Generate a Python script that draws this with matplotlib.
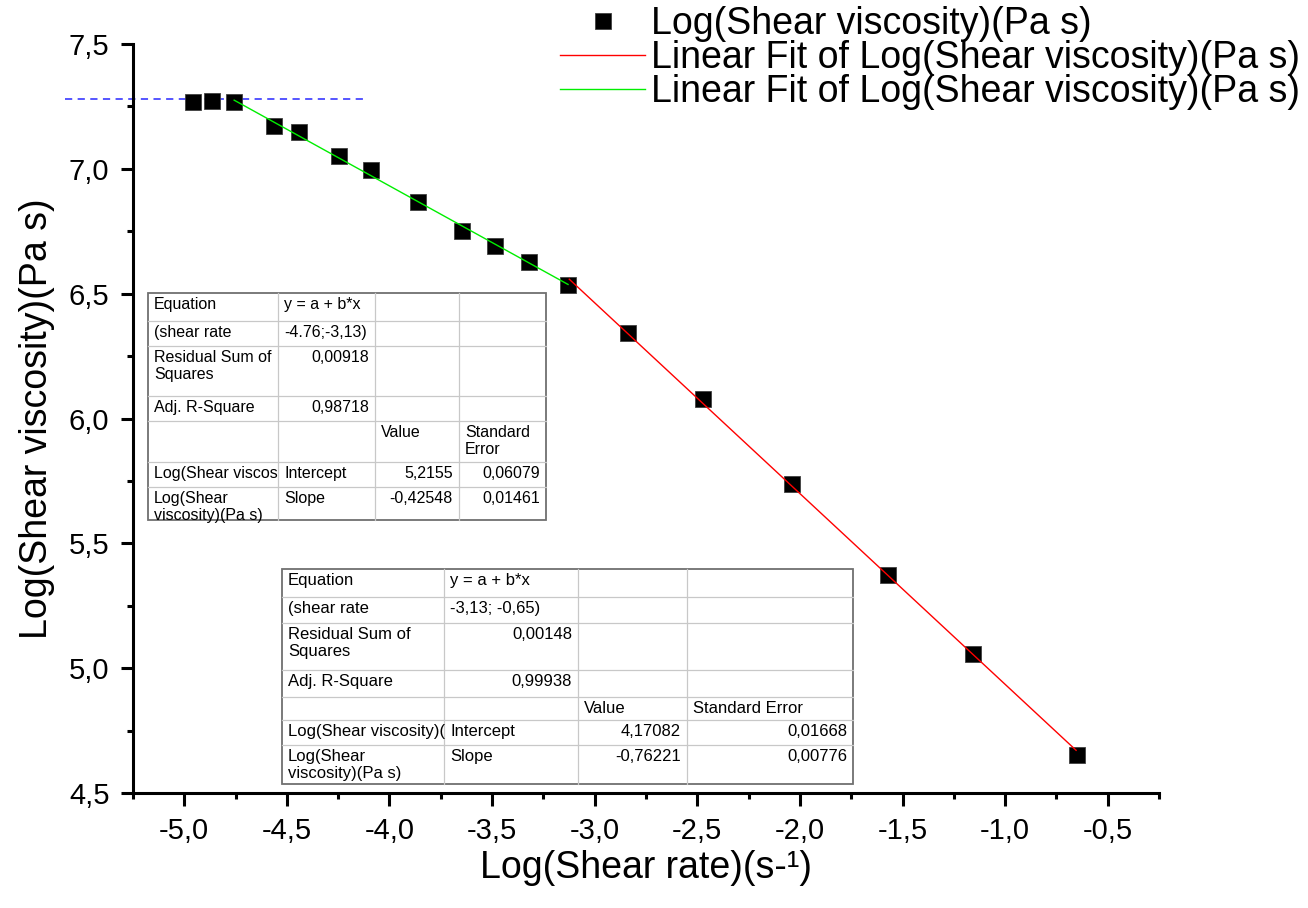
import matplotlib
matplotlib.use("Agg")
import matplotlib.pyplot as plt
from matplotlib.lines import Line2D
from matplotlib.patches import Rectangle
from matplotlib.ticker import MultipleLocator, FuncFormatter

plt.rcParams['font.family'] = ['Liberation Sans', 'DejaVu Sans']

# measured data (log shear rate, log shear viscosity)
shear_rate = [-4.958, -4.865, -4.757, -4.565, -4.44, -4.245, -4.09, -3.859, -3.648,
              -3.486, -3.32, -3.129, -2.84, -2.472, -2.04, -1.571, -1.157, -0.651]
viscosity = [7.267, 7.272, 7.267, 7.173, 7.146, 7.051, 6.995, 6.866, 6.752,
             6.69, 6.628, 6.534, 6.341, 6.078, 5.738, 5.373, 5.057, 4.653]

# fitted segments (end points)
fit_red_x = [-3.124, -0.654]
fit_red_y = [6.558, 4.671]
fit_green_x = [-4.757, -3.13]
fit_green_y = [7.275, 6.537]

# plateau guide
plateau_x = [-5.579, -4.104]
plateau_y = [7.28, 7.28]

legend_labels = ["Log(Shear viscosity)(Pa s)",
                 "Linear Fit of Log(Shear viscosity)(Pa s)",
                 "Linear Fit of Log(Shear viscosity)(Pa s)"]

table1 = [["Equation", "y = a + b*x", "", ""],
          ["(shear rate", "-4.76;-3,13)", "", ""],
          ["Residual Sum of\nSquares", "0,00918", "", ""],
          ["Adj. R-Square", "0,98718", "", ""],
          ["", "", "Value", "Standard\nError"],
          ["Log(Shear viscos", "Intercept", "5,2155", "0,06079"],
          ["Log(Shear\nviscosity)(Pa s)", "Slope", "-0,42548", "0,01461"]]

table2 = [["Equation", "y = a + b*x", "", ""],
          ["(shear rate", "-3,13; -0,65)", "", ""],
          ["Residual Sum of\nSquares", "0,00148", "", ""],
          ["Adj. R-Square", "0,99938", "", ""],
          ["", "", "Value", "Standard Error"],
          ["Log(Shear viscosity)(", "Intercept", "4,17082", "0,01668"],
          ["Log(Shear\nviscosity)(Pa s)", "Slope", "-0,76221", "0,00776"]]

W, H = 1308, 908


def fx(x):
    return x / W


def fy(y):
    return 1 - y / H


def draw_table(fig, cells, cols, rows, fs):
    fig.add_artist(Rectangle((fx(cols[0]), fy(rows[-1])), fx(cols[-1]) - fx(cols[0]),
                             fy(rows[0]) - fy(rows[-1]), transform=fig.transFigure,
                             facecolor='white', edgecolor='#707070', lw=1.3, zorder=4))
    for c in cols[1:-1]:
        fig.add_artist(Line2D([fx(c), fx(c)], [fy(rows[0]), fy(rows[-1])],
                              transform=fig.transFigure, color='#c8c8c8', lw=0.9, zorder=5))
    for r in rows[1:-1]:
        fig.add_artist(Line2D([fx(cols[0]), fx(cols[-1])], [fy(r), fy(r)],
                              transform=fig.transFigure, color='#c8c8c8', lw=0.9, zorder=5))
    for i, row in enumerate(cells):
        for j, txt in enumerate(row):
            if not txt:
                continue
            numeric = txt.replace(',', '').replace('-', '').isdigit()
            if numeric:
                x, ha = cols[j + 1] - 6, 'right'
            else:
                x, ha = cols[j] + 6, 'left'
            fig.text(fx(x), fy(rows[i] + 4), txt, ha=ha, va='top', fontsize=fs,
                     linespacing=1.2, zorder=6)


fig = plt.figure(figsize=(13.08, 9.08), dpi=100)
ax = fig.add_axes([133 / W, 1 - 793 / H, (1159 - 133) / W, (793 - 44) / H])

ax.plot(plateau_x, plateau_y, color='#4848ff', lw=1.3, dashes=(4, 3), clip_on=False)
pts, = ax.plot(shear_rate, viscosity, 's', ms=12, color='black', mec='#404040', mew=0.6,
               zorder=3)
red, = ax.plot(fit_red_x, fit_red_y, color='#ff0000', lw=1.0, zorder=4)
green, = ax.plot(fit_green_x, fit_green_y, color='#00ee00', lw=1.0, zorder=4)

ax.set_xlim(-5.25, -0.25)
ax.set_ylim(4.5, 7.5)
ax.xaxis.set_major_locator(MultipleLocator(0.5))
ax.xaxis.set_minor_locator(MultipleLocator(0.25))
ax.yaxis.set_major_locator(MultipleLocator(0.5))
ax.yaxis.set_minor_locator(MultipleLocator(0.25))
comma = FuncFormatter(lambda v, p: ("%.1f" % v).replace('.', ','))
ax.xaxis.set_major_formatter(comma)
ax.yaxis.set_major_formatter(comma)
xt = ax.get_xticks()
ax.set_xticks([t for t in xt if -5.01 <= t <= -0.49])

for s in ('top', 'right'):
    ax.spines[s].set_visible(False)
for s in ('left', 'bottom'):
    ax.spines[s].set_linewidth(2.2)
ax.tick_params(which='major', direction='out', length=9, width=2.2, labelsize=21, pad=8)
ax.tick_params(which='minor', direction='out', length=4.5, width=2.2)

ax.set_xlabel("Log(Shear rate)(s-¹)", fontsize=27, labelpad=4)
ax.set_ylabel("Log(Shear viscosity)(Pa s)", fontsize=27, labelpad=10)

fig.legend([pts, red, green], legend_labels, loc='upper left',
           bbox_to_anchor=(560 / W, 1 - 6 / H), frameon=False, fontsize=27,
           handlelength=2.27, handletextpad=0.15, labelspacing=-0.05,
           borderpad=0, borderaxespad=0)

draw_table(fig, table1, [148, 278, 375, 459, 546],
           [293, 321, 346, 396, 421, 462, 487, 520], 11.5)
draw_table(fig, table2, [282, 444, 578, 687, 853],
           [569, 597, 623, 670, 697, 720, 745, 784], 12)

fig.savefig("out.png", dpi=100)
